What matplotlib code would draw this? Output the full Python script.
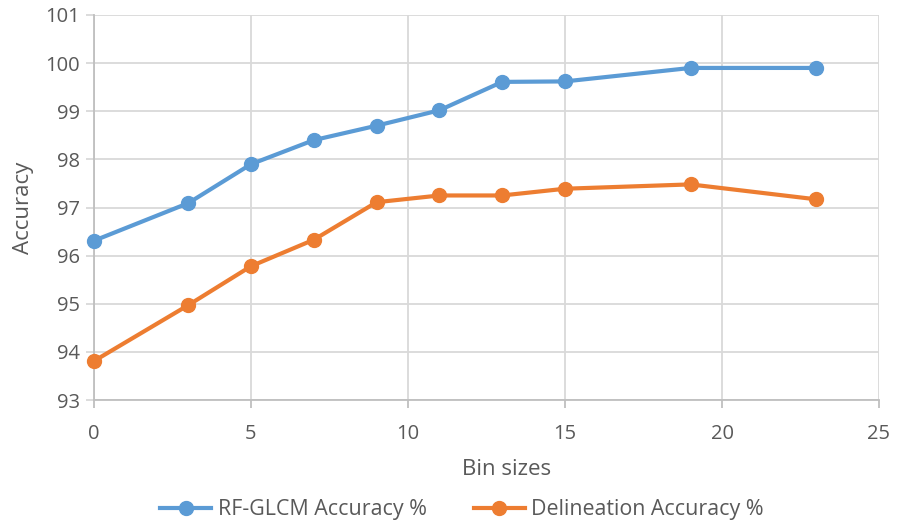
import matplotlib
matplotlib.use("Agg")
import matplotlib.pyplot as plt

bin_sizes = [0, 3, 5, 7, 9, 11, 13, 15, 19, 23]
rf_glcm_accuracy = [96.31, 97.09, 97.90, 98.40, 98.70, 99.02, 99.61, 99.62, 99.90, 99.90]
delineation_accuracy = [93.81, 94.97, 95.78, 96.33, 97.11, 97.25, 97.25, 97.39, 97.48, 97.17]
x_ticks = [0, 5, 10, 15, 20, 25]
y_ticks = [93, 94, 95, 96, 97, 98, 99, 100, 101]

plt.rcParams['font.family'] = ['Open Sans', 'DejaVu Sans']
text_color = '#595959'
grid_color = '#D9D9D9'
axis_color = '#BFBFBF'

fig = plt.figure(figsize=(9.02, 5.21), dpi=100)
ax = fig.add_axes([94 / 902, 1 - 400 / 521, (879 - 94) / 902, (400 - 15) / 521])

ax.plot(bin_sizes, rf_glcm_accuracy, color='#5B9BD5', lw=3, marker='o', ms=10,
        label='RF-GLCM Accuracy %', zorder=3, clip_on=False)
ax.plot(bin_sizes, delineation_accuracy, color='#ED7D31', lw=3, marker='o', ms=10,
        label='Delineation Accuracy %', zorder=3, clip_on=False)

ax.set_xlim(0, 25)
ax.set_ylim(93, 101)
ax.set_xticks(x_ticks)
ax.set_yticks(y_ticks)
ax.grid(True, color=grid_color, lw=1.3, zorder=0)
ax.set_axisbelow(True)

for side in ['top', 'right']:
    ax.spines[side].set_visible(False)
for side in ['left', 'bottom']:
    ax.spines[side].set_color(axis_color)
    ax.spines[side].set_linewidth(1.3)

ax.tick_params(axis='both', colors=axis_color, labelcolor=text_color,
               labelsize=14.5, length=6, width=1.3, direction='out')
ax.tick_params(axis='x', pad=11)
ax.tick_params(axis='y', pad=4, color=grid_color)

ax.set_xlabel('Bin sizes', fontsize=16, color=text_color)
ax.xaxis.set_label_coords(0.526, -0.154)
ax.set_ylabel('Accuracy', fontsize=16, color=text_color, labelpad=8)

fig.legend(loc='center', bbox_to_anchor=(462 / 902, 1 - 510 / 521), ncol=2, frameon=False,
           fontsize=15.4, labelcolor=text_color, handlelength=2.4, columnspacing=2.2,
           handletextpad=0.3)

fig.savefig('out.png', dpi=100)
